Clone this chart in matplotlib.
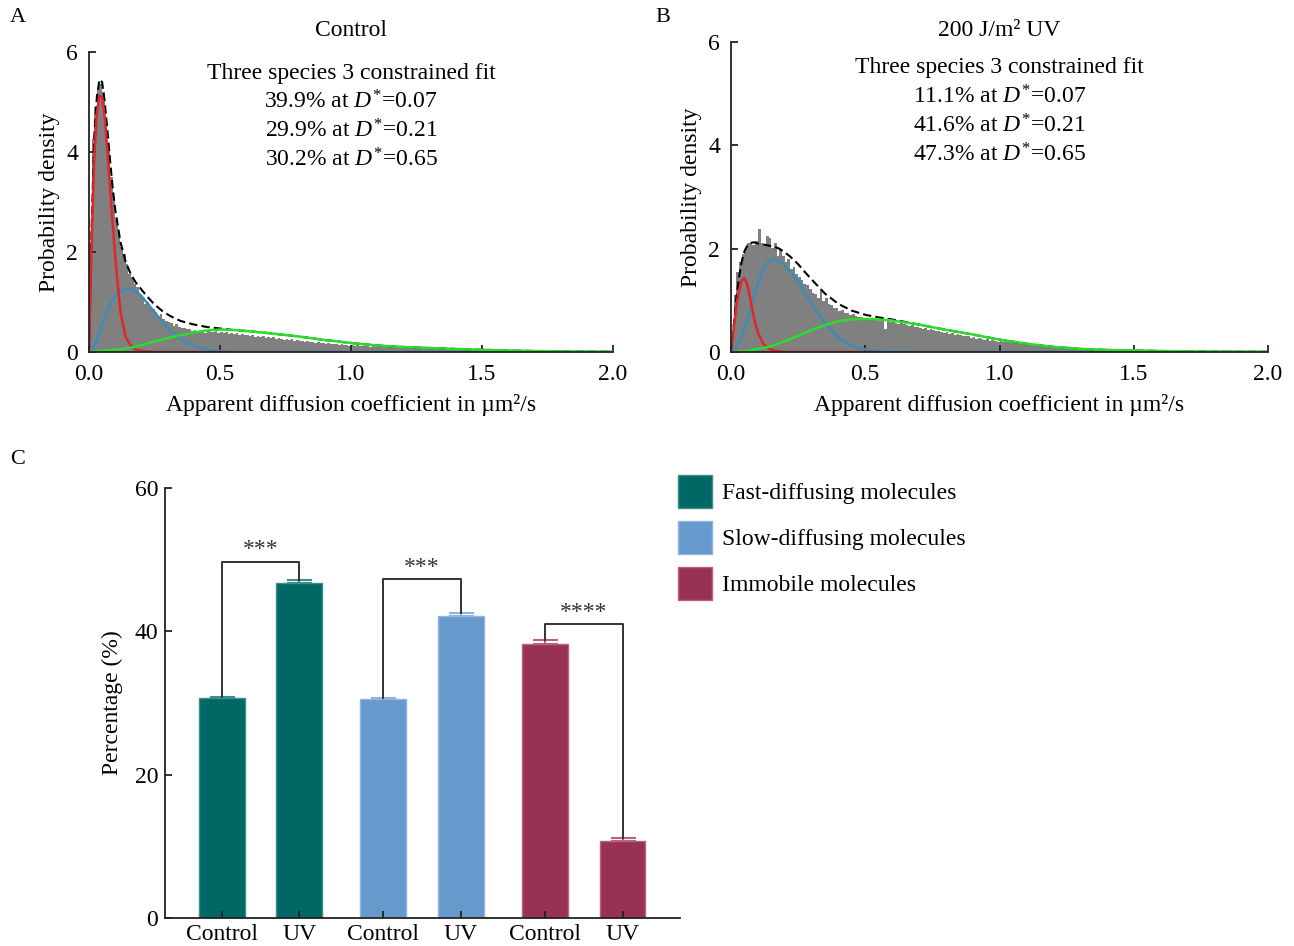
import numpy as np
import matplotlib
matplotlib.use("Agg")
import matplotlib.pyplot as plt
from matplotlib.patches import Patch

plt.rcParams['font.family'] = ['Liberation Serif', 'DejaVu Serif']
plt.rcParams['mathtext.fontset'] = 'custom'
plt.rcParams['mathtext.rm'] = 'Liberation Serif'
plt.rcParams['mathtext.it'] = 'Liberation Serif:italic'
plt.rcParams['font.size'] = 17

### histogram bins (0.01 wide), probability density
hist_edges = np.round(np.arange(0, 2.0001, 0.01), 2)

hist_ctrl = [
    2.18, 4.25, 4.9, 5.3, 5.35, 5.2, 4.7, 4.1, 3.5, 3.05,
    2.65, 2.35, 2.1, 1.95, 1.75, 1.55, 1.5, 1.35, 1.3, 1.15,
    1.1, 0.95, 1.0, 0.9, 0.85, 0.8, 0.72, 0.75, 0.65, 0.62,
    0.6, 0.58, 0.52, 0.55, 0.5, 0.48, 0.47, 0.45, 0.46, 0.42,
    0.44, 0.4, 0.42, 0.41, 0.38, 0.42, 0.4, 0.39, 0.41, 0.37,
    0.4, 0.38, 0.39, 0.36, 0.38, 0.35, 0.37, 0.34, 0.35, 0.33,
    0.34, 0.31, 0.33, 0.3, 0.32, 0.3, 0.31, 0.28, 0.3, 0.27,
    0.29, 0.26, 0.28, 0.26, 0.24, 0.26, 0.23, 0.25, 0.22, 0.23,
    0.21, 0.22, 0.2, 0.21, 0.19, 0.2, 0.18, 0.19, 0.17, 0.18,
    0.16, 0.17, 0.15, 0.16, 0.15, 0.14, 0.15, 0.13, 0.14, 0.12,
    0.13, 0.12, 0.13, 0.11, 0.12, 0.11, 0.12, 0.10, 0.11, 0.10,
    0.10, 0.11, 0.09, 0.10, 0.09, 0.09, 0.08, 0.09, 0.08, 0.08,
    0.08, 0.07, 0.08, 0.07, 0.07, 0.06, 0.07, 0.06, 0.06, 0.06,
    0.06, 0.05, 0.06, 0.05, 0.05, 0.05, 0.05, 0.04, 0.05, 0.04,
    0.05, 0.04, 0.04, 0.04, 0.05, 0.04, 0.04, 0.03, 0.04, 0.04,
    0.03, 0.04, 0.03, 0.03, 0.05, 0.03, 0.03, 0.02, 0.04, 0.03,
    0.02, 0.03, 0.02, 0.03, 0.02, 0.02, 0.02, 0.01, 0.02, 0.01,
    0.01, 0.02, 0.01, 0.01, 0.01, 0.02, 0.01, 0.01, 0.01, 0.01,
    0.01, 0.01, 0.01, 0.00, 0.01, 0.01, 0.01, 0.00, 0.01, 0.00,
    0.01, 0.00, 0.01, 0.00, 0.00, 0.01, 0.00, 0.00, 0.01, 0.00,
]

hist_uv = [
    0.3, 1.1, 1.55, 1.75, 1.9, 2.0, 2.1, 2.12, 2.08, 2.15,
    2.38, 2.1, 2.05, 2.25, 2.2, 2.02, 2.1, 1.85, 2.0, 1.85,
    1.75, 1.8, 1.6, 1.65, 1.5, 1.45, 1.4, 1.32, 1.3, 1.22,
    1.15, 1.12, 1.05, 1.2, 0.98, 1.05, 0.92, 0.9, 0.85, 0.86,
    0.8, 0.82, 0.76, 0.75, 0.72, 0.73, 0.69, 0.68, 0.68, 0.66,
    0.65, 0.64, 0.63, 0.62, 0.63, 0.6, 0.62, 0.45, 0.6, 0.59,
    0.58, 0.57, 0.55, 0.57, 0.54, 0.53, 0.5, 0.52, 0.49, 0.48,
    0.47, 0.45, 0.46, 0.43, 0.44, 0.42, 0.4, 0.41, 0.39, 0.37,
    0.38, 0.35, 0.36, 0.33, 0.34, 0.32, 0.31, 0.3, 0.31, 0.28,
    0.29, 0.26, 0.27, 0.25, 0.24, 0.25, 0.22, 0.23, 0.21, 0.2,
    0.21, 0.2, 0.19, 0.2, 0.18, 0.17, 0.18, 0.16, 0.17, 0.15,
    0.15, 0.14, 0.15, 0.13, 0.12, 0.13, 0.11, 0.12, 0.10, 0.11,
    0.10, 0.09, 0.10, 0.08, 0.09, 0.08, 0.07, 0.08, 0.07, 0.06,
    0.07, 0.06, 0.06, 0.05, 0.06, 0.05, 0.05, 0.04, 0.05, 0.04,
    0.04, 0.05, 0.04, 0.04, 0.03, 0.04, 0.03, 0.04, 0.03, 0.03,
    0.03, 0.03, 0.04, 0.03, 0.02, 0.03, 0.02, 0.03, 0.02, 0.02,
    0.02, 0.03, 0.02, 0.02, 0.02, 0.01, 0.02, 0.02, 0.01, 0.02,
    0.01, 0.02, 0.01, 0.01, 0.02, 0.01, 0.01, 0.01, 0.01, 0.01,
    0.01, 0.01, 0.01, 0.01, 0.00, 0.01, 0.01, 0.01, 0.00, 0.01,
    0.01, 0.00, 0.01, 0.01, 0.00, 0.01, 0.00, 0.01, 0.00, 0.01,
]

### fitted curves, sampled at these D values
curve_x = [0.00, 0.01, 0.02, 0.03, 0.04, 0.05, 0.06, 0.07, 0.08, 0.09,
           0.10, 0.12, 0.14, 0.16, 0.18, 0.20, 0.22, 0.25, 0.28, 0.31,
           0.35, 0.40, 0.45, 0.50, 0.55, 0.60, 0.70, 0.80, 0.90, 1.00,
           1.10, 1.20, 1.30, 1.40, 1.50, 1.60, 1.70, 1.80, 1.90, 2.00]
nan = np.nan

ctrl_red = [0, 2.2, 3.9, 4.78, 5.12, 5.1, 4.7, 4.05, 3.3, 2.6,
            1.9, 0.8, 0.3, 0.12, 0.05, 0.02, 0.01, 0, 0, 0,
            0, 0, 0, 0, 0] + [nan] * 15
ctrl_blue = [0, 0.05, 0.13, 0.26, 0.40, 0.55, 0.69, 0.82, 0.93, 1.03,
             1.11, 1.21, 1.27, 1.27, 1.22, 1.12, 0.99, 0.80, 0.60, 0.42,
             0.25, 0.12, 0.05, 0.02, 0.005] + [0] * 15
ctrl_green = [0, 0, 0.005, 0.01, 0.015, 0.02, 0.025, 0.03, 0.035, 0.04,
              0.045, 0.055, 0.07, 0.09, 0.11, 0.14, 0.17, 0.21, 0.25, 0.29,
              0.34, 0.39, 0.43, 0.45, 0.44, 0.42, 0.37, 0.31, 0.24, 0.18,
              0.13, 0.10, 0.08, 0.06, 0.045, 0.03, 0.02, 0.012, 0.008, 0.005]
ctrl_total = [0, 2.5, 4.3, 5.1, 5.45, 5.4, 5.0, 4.45, 3.85, 3.3,
              2.85, 2.2, 1.8, 1.55, 1.38, 1.25, 1.12, 0.95, 0.82, 0.72,
              0.62, 0.55, 0.5, 0.47, 0.44, 0.42, 0.37, 0.31, 0.24, 0.18,
              0.13, 0.10, 0.08, 0.06, 0.045, 0.03, 0.02, 0.012, 0.008, 0.005]

uv_red = [0, 0.45, 0.9, 1.2, 1.38, 1.43, 1.32, 1.08, 0.8, 0.56,
          0.38, 0.16, 0.07, 0.03, 0.01, 0, 0, 0, 0, 0,
          0, 0, 0, 0, 0] + [nan] * 15
uv_blue = [0, 0.03, 0.1, 0.2, 0.32, 0.46, 0.62, 0.8, 0.97, 1.15,
           1.32, 1.6, 1.75, 1.79, 1.76, 1.68, 1.57, 1.36, 1.1, 0.86,
           0.56, 0.28, 0.12, 0.05, 0.02, 0.005] + [0] * 14
uv_green = [0, 0, 0.002, 0.005, 0.01, 0.015, 0.02, 0.03, 0.04, 0.05,
            0.06, 0.08, 0.1, 0.13, 0.17, 0.21, 0.25, 0.31, 0.38, 0.45,
            0.52, 0.6, 0.63, 0.64, 0.63, 0.61, 0.53, 0.43, 0.34, 0.24,
            0.16, 0.1, 0.06, 0.04, 0.03, 0.02, 0.012, 0.008, 0.005, 0.003]
uv_total = [0, 0.5, 1.05, 1.45, 1.75, 1.95, 2.05, 2.1, 2.12, 2.12,
            2.1, 2.08, 2.06, 2.04, 2.0, 1.93, 1.85, 1.7, 1.52, 1.35,
            1.13, 0.93, 0.8, 0.72, 0.67, 0.63, 0.53, 0.43, 0.34, 0.24,
            0.16, 0.1, 0.06, 0.04, 0.03, 0.02, 0.012, 0.008, 0.005, 0.003]

ctrl_lines = ['Three species 3 constrained fit',
              r'39.9% at $D^{*}$=0.07', r'29.9% at $D^{*}$=0.21', r'30.2% at $D^{*}$=0.65']
uv_lines = ['Three species 3 constrained fit',
            r'11.1% at $D^{*}$=0.07', r'41.6% at $D^{*}$=0.21', r'47.3% at $D^{*}$=0.65']

### panel C
bar_labels = ['Control', 'UV', 'Control', 'UV', 'Control', 'UV']
bar_pos = [0, 1, 2.08, 3.08, 4.16, 5.16]
bar_vals = [30.65, 46.7, 30.5, 42.2, 38.3, 10.7]
bar_err = [0.25, 0.45, 0.25, 0.3, 0.5, 0.45]
species = ['Fast-diffusing molecules', 'Slow-diffusing molecules', 'Immobile molecules']
species_col = ['#006864', '#6699cc', '#983254']
species_edge = ['#3f8e8a', '#8db5e0', '#b8647f']
bracket_y = [49.7, 47.3, 41.0]
stars = ['***', '***', '****']

W, H = 1294, 946
fig = plt.figure(figsize=(W / 100, H / 100), dpi=100)

def box(l, t, r, b):
    return [l / W, 1 - b / H, (r - l) / W, (b - t) / H]

def style(ax, xpad, ypad):
    for s in ['top', 'right']:
        ax.spines[s].set_visible(False)
    for s in ['left', 'bottom']:
        ax.spines[s].set_linewidth(1.3)
        ax.spines[s].set_color('#222222')
    ax.tick_params(direction='in', length=5, width=1.3, color='#222222', labelsize=17)
    ax.tick_params(axis='x', pad=xpad)
    ax.tick_params(axis='y', pad=ypad)

def hist_panel(rect, hist, red, blue, green, total, title, lines, letter, lx, ty, ly):
    ax = fig.add_axes(box(*rect))
    ax.stairs(hist, hist_edges, fill=True, color='#808080', lw=0)
    ax.plot(curve_x, total, color='black', lw=1.5, ls=(0, (4, 2)))
    ax.plot(curve_x, blue, color='#3a8db6', lw=1.8)
    ax.plot(curve_x, red, color='#e0262b', lw=1.8)
    ax.plot(curve_x, green, color='#2bdc2b', lw=1.8)
    ax.set_xlim(0, 2)
    ax.set_ylim(0, 6)
    ax.set_xticks([0, 0.5, 1.0, 1.5, 2.0])
    ax.set_xticklabels(['0.0', '0.5', '1.0', '1.5', '2.0'])
    ax.set_yticks([0, 2, 4, 6])
    style(ax, 9, 8)
    ax.set_xlabel('Apparent diffusion coefficient in \u00b5m\u00b2/s', labelpad=6)
    ax.set_ylabel('Probability density', labelpad=4)
    cx = (rect[0] + rect[2]) / 2
    fig.text(cx / W, 1 - ty / H, title, ha='center', va='center', fontsize=17)
    for i, s in enumerate(lines):
        fig.text(cx / W, 1 - (ly + 29 * i) / H, s, ha='center', va='center', fontsize=17)
    fig.text(lx / W, 1 - 18 / H, letter, ha='center', va='center', fontsize=16)
    return ax

hist_panel((89, 52, 613, 352), hist_ctrl, ctrl_red, ctrl_blue, ctrl_green, ctrl_total,
           'Control', ctrl_lines, 'A', 18, 31, 73)
hist_panel((731, 42, 1268, 352), hist_uv, uv_red, uv_blue, uv_green, uv_total,
           '200 J/m\u00b2 UV', uv_lines, 'B', 663, 31, 68)

### panel C
axc = fig.add_axes(box(165, 488, 680, 918))
cols = [species_col[i // 2] for i in range(6)]
edges = [species_edge[i // 2] for i in range(6)]
axc.bar(bar_pos, bar_vals, width=0.59, color=cols, edgecolor=edges, linewidth=1)
for p, v, e, ec in zip(bar_pos, bar_vals, bar_err, edges):
    axc.errorbar(p, v, yerr=[[0], [e]], color=ec, capsize=9, capthick=1.5, elinewidth=1.5)
for k in range(3):
    p0, p1 = bar_pos[2 * k], bar_pos[2 * k + 1]
    y0 = bar_vals[2 * k] + bar_err[2 * k]
    y1 = bar_vals[2 * k + 1] + bar_err[2 * k + 1]
    yb = bracket_y[k]
    axc.plot([p0, p0, p1, p1], [y0, yb, yb, y1], color='#333333', lw=1.4)
    axc.text((p0 + p1) / 2, yb + 0.2, stars[k], ha='center', va='bottom', fontsize=17, color='#333333')
axc.set_xlim(-0.73, 5.9)
axc.set_ylim(0, 60)
axc.set_yticks([0, 20, 40, 60])
axc.set_xticks(bar_pos)
axc.set_xticklabels(bar_labels)
style(axc, 4, 5)
axc.set_ylabel('Percentage (%)', labelpad=8)
fig.text(18 / W, 1 - 460 / H, 'C', ha='center', va='center', fontsize=16)

handles = [Patch(facecolor=c, edgecolor=e, lw=1) for c, e in zip(species_col, species_edge)]
fig.legend(handles, species, loc='upper left', bbox_to_anchor=(657 / W, 1 - 454 / H),
           frameon=False, fontsize=17, handlelength=1.45, handleheight=1.76,
           labelspacing=0.55, handletextpad=0.42)

fig.savefig('out.png', dpi=100)
